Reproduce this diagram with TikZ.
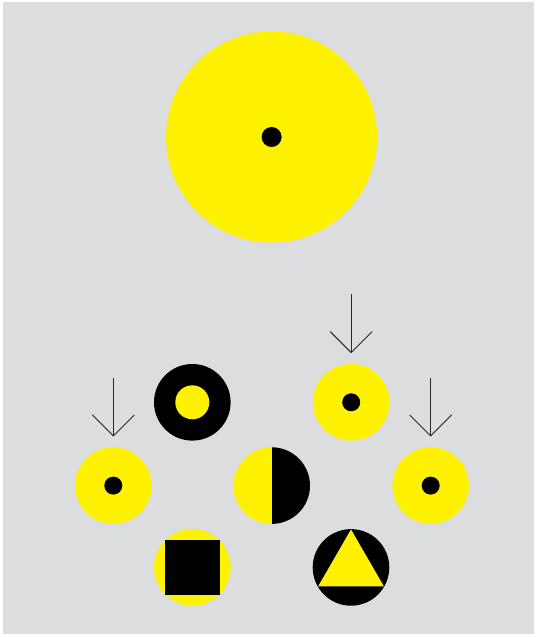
\documentclass[tikz,border=0pt]{standalone}
\usetikzlibrary{arrows.meta,shapes.geometric}
\definecolor{bg}{RGB}{220,221,223}
\definecolor{yel}{RGB}{255,242,0}
\definecolor{arr}{RGB}{40,40,40}
\begin{document}
\begin{tikzpicture}[x=1pt,y=-1pt,
  disc/.style={circle,inner sep=0pt,minimum size=#1,draw=none},
  ydisc/.style={disc=#1,fill=yel},
  kdisc/.style={disc=#1,fill=black},
  pointer/.style={draw=arr,line width=0.9pt,-{Straight Barb[length=21pt,width=42pt,line width=0.9pt]},shorten >=10.6pt}]
\useasboundingbox (0,0) rectangle (536,637);
\fill[white] (0,0) rectangle (536,637);
\fill[bg] (3,2) rectangle (534,634);
% big circle
\node[ydisc=211pt] (big) at (271.6,137) {};
\node[kdisc=20pt] (bigdot) at (big.center) {};
% left
\node[ydisc=76.6pt] (cl) at (113.3,485.6) {};
\node[kdisc=18pt] (cldot) at (cl.center) {};
% ring
\node[kdisc=76.6pt] (ring) at (192.3,402.3) {};
\node[ydisc=34pt] (ringin) at (ring.center) {};
% top right
\node[ydisc=76.6pt] (ctr) at (351.2,402.3) {};
\node[kdisc=18pt] (ctrdot) at (ctr.center) {};
% half
\node[ydisc=76.6pt,path picture={\fill[black] (path picture bounding box.north) rectangle (path picture bounding box.south east);}] (half) at (271.7,485.6) {};
% right
\node[ydisc=76.6pt] (cr) at (430.7,485.6) {};
\node[kdisc=18pt] (crdot) at (cr.center) {};
% square
\node[ydisc=76.6pt] (csq) at (192.4,567.4) {};
\node[rectangle,fill=black,inner sep=0pt,minimum size=55pt] (sq) at (csq.center) {};
% triangle
\node[kdisc=76.6pt] (ctri) at (351,567.4) {};
\node[regular polygon,regular polygon sides=3,fill=yel,inner sep=0pt,minimum size=76pt] (tri) at (ctri.center) {};
% arrows
\coordinate (a1) at (113.3,378.3);
\coordinate (a2) at (351.2,294);
\coordinate (a3) at (430.7,378.3);
\draw[pointer] (a1) -- (cl.north);
\draw[pointer] (a2) -- (ctr.north);
\draw[pointer] (a3) -- (cr.north);
\end{tikzpicture}
\end{document}
